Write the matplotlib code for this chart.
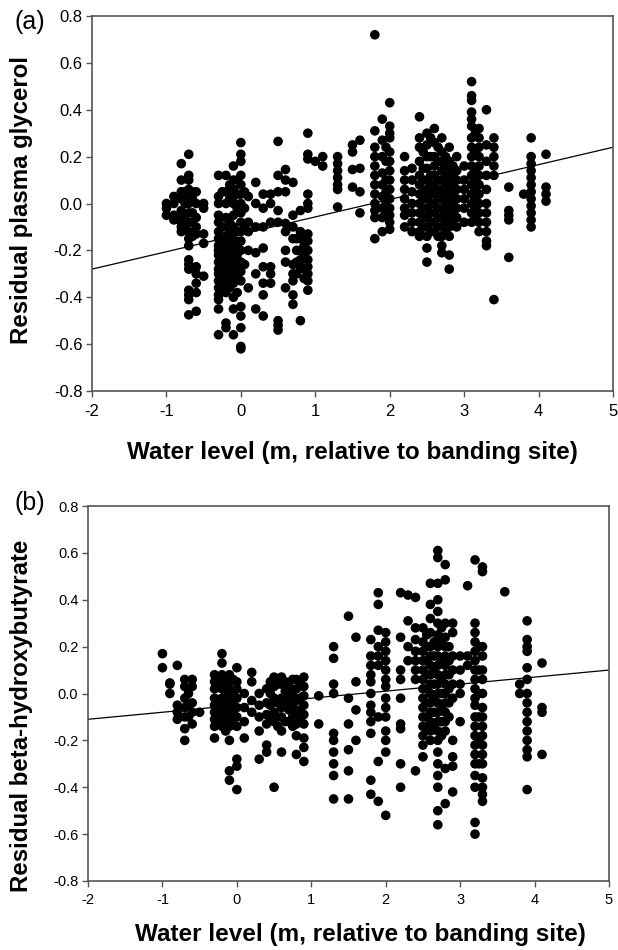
import matplotlib
matplotlib.use("Agg")
import matplotlib.pyplot as plt
import numpy as np

plt.rcParams['font.family'] = ['Liberation Sans', 'DejaVu Sans']

# ---------------- Panel (a): residual plasma glycerol ----------------
a_x_levels = [-1.0, -0.9, -0.8, -0.7, -0.6, -0.5, -0.3, -0.2, -0.1, 0.0, 0.1, 0.2, 0.3,
              0.4, 0.5, 0.6, 0.7, 0.8, 0.9, 1.0, 1.1, 1.3, 1.5, 1.6, 1.8, 1.9, 2.0,
              2.2, 2.3, 2.4, 2.5, 2.6, 2.7, 2.8, 2.9, 3.0, 3.1, 3.2, 3.3, 3.4, 3.6,
              3.8, 3.9, 4.1,
              -0.75, -0.65, -0.25, -0.15, -0.05, 0.05, 0.75, 0.85, 1.95,
              2.45, 2.55, 2.65, 2.75, 2.85, 3.15]
a_y_values = [
    [0.0, -0.05, -0.02],
    [0.03, -0.05, -0.07, 0.0],
    [0.17, 0.1, 0.05, 0.02, -0.05, -0.08, -0.1, -0.12, -0.03],
    [0.21, 0.12, 0.1, 0.06, 0.03, 0.0, -0.04, -0.08, -0.12, -0.15, -0.18, -0.24, -0.26,
     -0.28, -0.37, -0.39, -0.41, -0.475],
    [0.05, 0.0, -0.06, -0.1, -0.13, -0.27, -0.3, -0.34, -0.38, -0.46],
    [0.0, -0.02, -0.13, -0.17, -0.31],
    [0.12, 0.03, 0.0, -0.05, -0.08, -0.12, -0.15, -0.18, -0.2, -0.22, -0.25, -0.28, -0.3,
     -0.33, -0.36, -0.39, -0.41, -0.45, -0.56],
    [0.12, 0.05, 0.0, -0.06, -0.1, -0.14, -0.17, -0.2, -0.22, -0.24, -0.26, -0.3, -0.32,
     -0.35, -0.38, -0.51, -0.53],
    [0.16, 0.1, 0.06, 0.03, 0.0, -0.05, -0.1, -0.15, -0.2, -0.23, -0.27, -0.3, -0.34,
     -0.4, -0.45, -0.56],
    [0.26, 0.21, 0.18, 0.12, 0.08, 0.04, 0.0, -0.04, -0.08, -0.12, -0.16, -0.2, -0.25,
     -0.29, -0.33, -0.44, -0.48, -0.53, -0.61, -0.62],
    [0.03, -0.08, -0.12, -0.2, -0.36],
    [0.09, 0.0, -0.1, -0.21, -0.3, -0.45],
    [0.04, -0.02, -0.1, -0.19, -0.27, -0.34, -0.39, -0.48],
    [0.04, 0.0, -0.08, -0.27, -0.3, -0.34],
    [0.265, 0.12, 0.05, -0.03, -0.08, -0.5, -0.52, -0.54],
    [0.145, 0.1, 0.05, -0.085, -0.12, -0.2, -0.25, -0.36],
    [0.09, -0.05, -0.1, -0.15, -0.26, -0.3, -0.33, -0.39, -0.43],
    [-0.03, -0.12, -0.15, -0.2, -0.24, -0.27, -0.5],
    [0.3, 0.21, 0.19, 0.04, 0.0, -0.02, -0.13, -0.16, -0.2, -0.24, -0.27, -0.3, -0.33, -0.37],
    [0.18],
    [0.2, 0.16],
    [0.2, 0.17, 0.14, 0.11, 0.08, 0.06, -0.015],
    [0.25, 0.22, 0.145, 0.07],
    [0.27, 0.15, 0.05, -0.04],
    [0.72, 0.31, 0.24, 0.2, 0.16, 0.12, 0.08, 0.04, 0.0, -0.03, -0.06, -0.15],
    [0.36, 0.27, 0.2, 0.13, 0.08, 0.03, -0.02, -0.06, -0.12],
    [0.43, 0.33, 0.3, 0.28, 0.22, 0.18, 0.14, 0.1, 0.06, 0.02, -0.02, -0.05, -0.08, -0.11],
    [0.2, 0.14, 0.1, 0.06, 0.02, -0.02, -0.05, -0.1],
    [0.15, 0.1, 0.05, 0.0, -0.04, -0.08, -0.12],
    [0.37, 0.28, 0.24, 0.18, 0.12, 0.08, 0.04, 0.0, -0.04, -0.08, -0.12, -0.14],
    [0.3, 0.25, 0.2, 0.15, 0.1, 0.06, 0.02, -0.02, -0.06, -0.1, -0.14, -0.19, -0.25],
    [0.32, 0.26, 0.2, 0.16, 0.12, 0.08, 0.04, 0.0, -0.04, -0.08, -0.12],
    [0.28, 0.22, 0.18, 0.14, 0.1, 0.06, 0.02, -0.02, -0.06, -0.1, -0.14, -0.18, -0.21],
    [0.24, 0.18, 0.14, 0.1, 0.06, 0.02, -0.02, -0.06, -0.1, -0.14, -0.22, -0.28],
    [0.2, 0.14, 0.1, 0.06, 0.02, -0.02, -0.06, -0.1],
    [0.16, 0.1, 0.06, 0.02, -0.02, -0.08],
    [0.52, 0.46, 0.44, 0.39, 0.36, 0.33, 0.28, 0.24, 0.2, 0.16, 0.12, 0.08, 0.04, 0.0,
     -0.04, -0.08],
    [0.32, 0.28, 0.24, 0.2, 0.16, 0.12, 0.08, 0.04, 0.0, -0.04, -0.08, -0.12],
    [0.4, 0.25, 0.18, 0.12, 0.06, 0.0, -0.04, -0.08, -0.12, -0.16, -0.18],
    [0.28, 0.24, 0.2, 0.16, 0.12, -0.41],
    [0.07, -0.03, -0.05, -0.07, -0.23],
    [0.04],
    [0.28, 0.2, 0.17, 0.14, 0.11, 0.08, 0.05, 0.02, -0.01, -0.04, -0.07, -0.1],
    [0.21, 0.07, 0.04, 0.01],
    # denser in-between columns
    [0.05, 0.0, -0.05, -0.1],
    [0.05, 0.02, -0.04, -0.08, -0.14],
    [0.05, -0.1, -0.16, -0.19, -0.23, -0.27, -0.31, -0.34, -0.37],
    [0.08, 0.02, -0.08, -0.12, -0.18, -0.21, -0.25, -0.28, -0.33, -0.36],
    [0.1, 0.04, -0.02, -0.12, -0.18, -0.22, -0.26, -0.32, -0.38],
    [0.05, -0.02, -0.1, -0.26],
    [-0.15, -0.2, -0.25, -0.3],
    [-0.18, -0.22, -0.28, -0.32],
    [0.24, 0.18, 0.1, 0.05, 0.0, -0.04],
    [0.22, 0.15, 0.1, 0.05, 0.02, -0.02, -0.06, -0.1],
    [0.28, 0.2, 0.12, 0.08, 0.04, 0.0, -0.04, -0.08, -0.12],
    [0.24, 0.18, 0.1, 0.06, 0.02, -0.02, -0.06, -0.1, -0.14],
    [0.2, 0.16, 0.12, 0.08, 0.04, 0.0, -0.04, -0.08, -0.12],
    [0.16, 0.12, 0.08, 0.04, 0.0, -0.04, -0.08],
    [0.3, 0.22, 0.14, 0.1, 0.06, 0.02, -0.02, -0.06],
]
a_fit_x = [-2.0, 5.0]
a_fit_y = [-0.28, 0.24]

# ---------------- Panel (b): residual beta-hydroxybutyrate ----------------
b_x_levels = [-1.0, -0.9, -0.8, -0.7, -0.6, -0.5, -0.3, -0.2, -0.1, 0.0, 0.1, 0.2, 0.3,
              0.4, 0.5, 0.6, 0.7, 0.8, 0.9, 1.1, 1.3, 1.5, 1.6, 1.8, 1.9, 2.0, 2.2,
              2.3, 2.4, 2.5, 2.6, 2.7, 2.8, 2.9, 3.0, 3.1, 3.2, 3.3, 3.6, 3.8, 3.9, 4.1,
              -0.65, -0.25, -0.15, -0.05, 0.45, 0.55, 0.65, 0.75, 0.85,
              2.55, 2.65, 2.75, 2.85, 3.25]
b_y_values = [
    [0.17, 0.11],
    [0.045, 0.04, 0.0],
    [0.12, -0.05, -0.08, -0.11],
    [0.06, 0.03, -0.02, -0.06, -0.1, -0.15, -0.2],
    [0.06, 0.03, -0.04, -0.08, -0.13],
    [-0.08],
    [0.08, 0.05, 0.02, -0.02, -0.05, -0.08, -0.11, -0.14, -0.19],
    [0.17, 0.13, 0.08, 0.05, 0.02, -0.02, -0.05, -0.08, -0.11, -0.14],
    [0.08, 0.05, 0.02, -0.02, -0.06, -0.1, -0.14, -0.2, -0.33, -0.37],
    [0.11, 0.05, 0.02, -0.02, -0.06, -0.1, -0.14, -0.28, -0.31, -0.41],
    [0.0, -0.06, -0.12, -0.19],
    [0.09, 0.05, -0.03, -0.08],
    [0.0, -0.05, -0.1, -0.16, -0.28],
    [0.02, -0.04, -0.09, -0.13, -0.22, -0.25],
    [0.07, 0.03, -0.02, -0.08, -0.12, -0.4],
    [0.07, 0.04, -0.02, -0.06, -0.1, -0.16, -0.25],
    [0.03, -0.02, -0.07, -0.12],
    [0.06, 0.02, -0.03, -0.08, -0.13, -0.18, -0.26],
    [0.07, 0.03, -0.01, -0.05, -0.09, -0.13, -0.19, -0.23, -0.29],
    [-0.01, -0.13],
    [0.2, 0.15, 0.04, 0.0, -0.17, -0.2, -0.25, -0.3, -0.35, -0.45],
    [0.33, -0.02, -0.13, -0.24, -0.33, -0.45],
    [0.24, 0.05, -0.07, -0.2],
    [0.23, 0.16, 0.12, 0.08, 0.05, 0.0, -0.05, -0.08, -0.12, -0.17, -0.37, -0.43],
    [0.43, 0.38, 0.27, 0.2, 0.16, 0.12, -0.1, -0.29, -0.46],
    [0.26, 0.22, 0.18, 0.14, 0.1, 0.06, 0.03, -0.02, -0.06, -0.1, -0.16, -0.2, -0.25, -0.52],
    [0.43, 0.24, 0.1, 0.06, -0.02, -0.13, -0.15, -0.3, -0.4],
    [0.42, 0.31, 0.2, 0.14],
    [0.41, 0.28, 0.23, 0.18, 0.14, 0.1, 0.06, -0.33],
    [0.28, 0.22, 0.18, 0.14, 0.1, 0.06, 0.02, -0.02, -0.06, -0.1, -0.14, -0.18, -0.22, -0.27],
    [0.47, 0.38, 0.32, 0.26, 0.2, 0.16, 0.12, 0.08, 0.04, 0.0, -0.04, -0.08, -0.12, -0.16, -0.2],
    [0.61, 0.58, 0.47, 0.4, 0.35, 0.3, 0.25, 0.2, 0.16, 0.12, 0.08, 0.04, 0.0, -0.04, -0.08,
     -0.12, -0.16, -0.2, -0.25, -0.3, -0.35, -0.4, -0.5, -0.56],
    [0.55, 0.485, 0.3, 0.24, 0.2, 0.16, 0.12, 0.08, 0.04, 0.0, -0.04, -0.08, -0.12, -0.16,
     -0.32, -0.47],
    [0.3, 0.26, 0.16, 0.1, 0.04, -0.02, -0.2, -0.27, -0.31, -0.42],
    [0.16, 0.1, 0.04, 0.0, -0.12],
    [0.46, 0.16, 0.12],
    [0.57, 0.3, 0.26, 0.22, 0.18, 0.14, 0.1, 0.06, 0.02, -0.02, -0.05, -0.1, -0.14, -0.18,
     -0.22, -0.26, -0.3, -0.35, -0.4, -0.55, -0.6],
    [0.54, 0.52, 0.2, 0.16, 0.1, 0.06, 0.0, -0.06, -0.1, -0.14, -0.18, -0.22, -0.26, -0.3,
     -0.36, -0.4, -0.43, -0.46],
    [0.434],
    [0.04, 0.0],
    [0.31, 0.23, 0.2, 0.18, 0.11, 0.06, 0.0, -0.04, -0.08, -0.12, -0.16, -0.2, -0.24, -0.27, -0.41],
    [0.13, -0.06, -0.08, -0.26],
    # denser in-between columns
    [0.0, -0.05, -0.1],
    [0.06, 0.03, -0.03, -0.07, -0.1, -0.13],
    [0.07, 0.04, 0.0, -0.04, -0.08, -0.12, -0.16],
    [0.06, 0.0, -0.04, -0.08, -0.12],
    [0.05, 0.0, -0.05, -0.1],
    [0.04, -0.04, -0.1, -0.14],
    [0.05, 0.01, -0.04, -0.12],
    [0.06, 0.0, -0.05, -0.1, -0.14],
    [0.04, -0.02, -0.07, -0.11],
    [0.25, 0.2, 0.14, 0.08, 0.02, -0.04, -0.1, -0.15],
    [0.22, 0.16, 0.1, 0.04, -0.02, -0.08, -0.14],
    [0.28, 0.22, 0.14, 0.06, 0.0, -0.06, -0.12, -0.18],
    [0.2, 0.14, 0.08, 0.02, -0.04, -0.1],
    [0.2, 0.1, 0.0, -0.1, -0.2, -0.3],
]
b_fit_x = [-2.0, 5.0]
b_fit_y = [-0.11, 0.10]

x_ticks = [-2, -1, 0, 1, 2, 3, 4, 5]
y_ticks = [-0.8, -0.6, -0.4, -0.2, 0.0, 0.2, 0.4, 0.6, 0.8]
x_label = "Water level (m, relative to banding site)"


def flatten(levels, values):
    xs, ys = [], []
    for xv, col in zip(levels, values):
        for yv in col:
            xs.append(xv)
            ys.append(yv)
    return np.array(xs), np.array(ys)


W, H = 618, 950
fig = plt.figure(figsize=(W / 100, H / 100), dpi=100)


def make_axes(box, xs, ys, fx, fy, tick_fs):
    l, t, r, b = box
    ax = fig.add_axes([l / W, 1 - b / H, (r - l) / W, (b - t) / H])
    ax.scatter(xs, ys, s=48, c='black', edgecolors='none', zorder=3)
    ax.plot(fx, fy, color='black', lw=0.9, zorder=2)
    ax.set_xlim(-2, 5)
    ax.set_ylim(-0.8, 0.8)
    ax.set_xticks(x_ticks)
    ax.set_yticks(y_ticks)
    ax.set_xticklabels([str(v) for v in x_ticks])
    ax.set_yticklabels(["%.1f" % v for v in y_ticks])
    for s in ax.spines.values():
        s.set_color('#555555')
        s.set_linewidth(1.2)
    ax.tick_params(direction='out', length=4, width=1.0, color='#555555',
                   labelsize=tick_fs, pad=3)
    ax.xaxis.set_tick_params(pad=5)
    return ax


xa, ya = flatten(a_x_levels, a_y_values)
xb, yb = flatten(b_x_levels, b_y_values)

ax1 = make_axes((92, 16, 613, 391), xa, ya, a_fit_x, a_fit_y, 12)
ax2 = make_axes((88, 506, 609, 881), xb, yb, b_fit_x, b_fit_y, 10.5)

fig.text(352 / W, 1 - 452 / H, x_label, ha='center', va='center',
         fontsize=17.5, fontweight='bold')
fig.text(360 / W, 1 - 935 / H, x_label, ha='center', va='center',
         fontsize=17.5, fontweight='bold')
fig.text(22 / W, 1 - 200 / H, "Residual plasma glycerol", rotation=90,
         ha='center', va='center', fontsize=17.3, fontweight='bold')
fig.text(22 / W, 1 - 716 / H, "Residual beta-hydroxybutyrate", rotation=90,
         ha='center', va='center', fontsize=17.3, fontweight='bold')
fig.text(30 / W, 1 - 22 / H, "(a)", ha='center', va='center', fontsize=18)
fig.text(30 / W, 1 - 503 / H, "(b)", ha='center', va='center', fontsize=18)

fig.savefig("out.png", dpi=100)
